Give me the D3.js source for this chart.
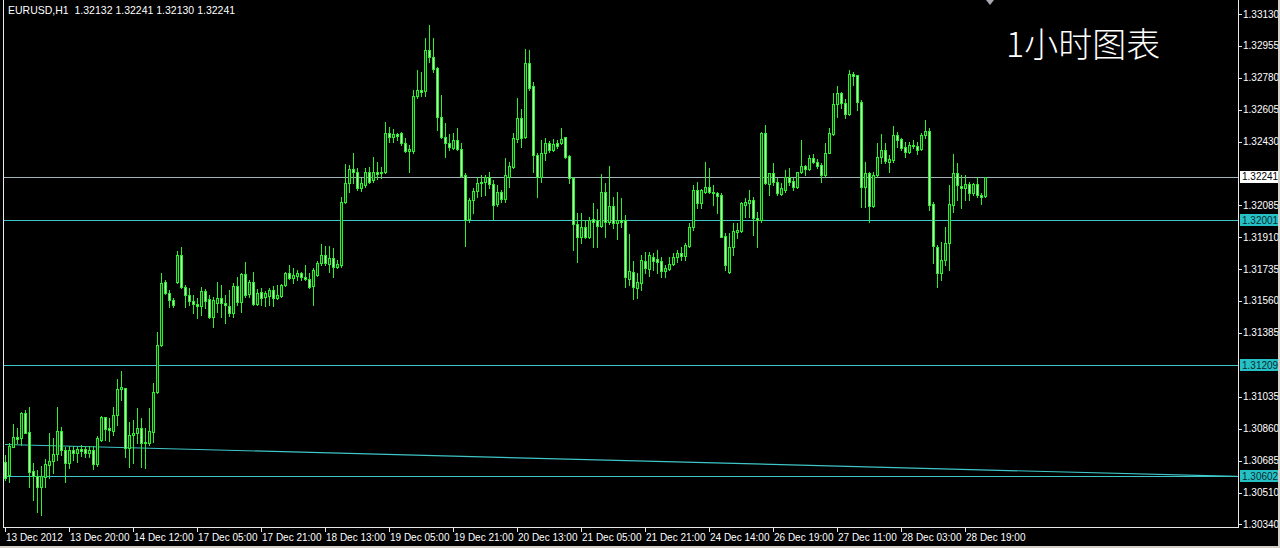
<!DOCTYPE html>
<html><head><meta charset="utf-8">
<script src="https://cdn.jsdelivr.net/npm/d3@7"></script>
<style>html,body{margin:0;padding:0;background:#000;overflow:hidden}svg{display:block}</style>
</head><body>
<svg id="c" width="1280" height="548"></svg>
<script>
const symbolTitle = "EURUSD,H1";
const lastQuote = ["1.32132", "1.32241", "1.32130", "1.32241"];
const chartTitle = "1小时图表";

const opens = [1.30680,1.30608,1.30762,1.30816,1.30811,1.30948,1.30844,1.30630,1.30603,1.30543,1.30597,1.30663,1.30685,1.30723,1.30849,1.30745,1.30674,1.30745,1.30729,1.30751,1.30751,1.30729,1.30745,1.30669,1.30800,1.30926,1.30865,1.30849,1.30937,1.31079,1.31084,1.30756,1.30827,1.30838,1.30865,1.30783,1.30783,1.30844,1.31062,1.31319,1.31664,1.31604,1.31566,1.31664,1.31812,1.31637,1.31593,1.31560,1.31544,1.31533,1.31615,1.31571,1.31473,1.31549,1.31577,1.31549,1.31533,1.31495,1.31642,1.31555,1.31708,1.31598,1.31664,1.31544,1.31609,1.31582,1.31588,1.31620,1.31577,1.31588,1.31648,1.31713,1.31686,1.31697,1.31713,1.31691,1.31681,1.31642,1.31702,1.31768,1.31812,1.31763,1.31795,1.31746,1.31757,1.32102,1.32206,1.32282,1.32266,1.32178,1.32195,1.32266,1.32222,1.32266,1.32260,1.32266,1.32479,1.32457,1.32474,1.32479,1.32424,1.32381,1.32381,1.32682,1.32714,1.32709,1.32933,1.32895,1.32835,1.32567,1.32457,1.32424,1.32397,1.32441,1.32392,1.32249,1.32009,1.32113,1.32162,1.32206,1.32211,1.32238,1.32200,1.32091,1.32156,1.32118,1.32238,1.32293,1.32446,1.32561,1.32457,1.32862,1.32736,1.32359,1.32238,1.32370,1.32424,1.32386,1.32424,1.32424,1.32457,1.32353,1.32233,1.31981,1.31910,1.31965,1.31910,1.32009,1.32003,1.31970,1.32156,1.31992,1.32080,1.31987,1.32003,1.32003,1.31681,1.31719,1.31631,1.31659,1.31779,1.31735,1.31801,1.31790,1.31779,1.31724,1.31735,1.31763,1.31801,1.31823,1.31806,1.31861,1.31965,1.32167,1.32096,1.32156,1.32184,1.32156,1.32151,1.32140,1.31916,1.31719,1.31856,1.31938,1.31943,1.32085,1.32096,1.32113,1.32014,1.32003,1.32479,1.32200,1.32260,1.32211,1.32145,1.32167,1.32238,1.32217,1.32184,1.32266,1.32299,1.32282,1.32342,1.32321,1.32304,1.32249,1.32370,1.32474,1.32638,1.32698,1.32643,1.32583,1.32802,1.32796,1.32649,1.32184,1.32260,1.32080,1.32249,1.32348,1.32386,1.32321,1.32331,1.32468,1.32446,1.32403,1.32375,1.32413,1.32408,1.32392,1.32468,1.32490,1.32091,1.31856,1.31713,1.31784,1.31877,1.32085,1.32260,1.32189,1.32178,1.32200,1.32151,1.32200,1.32140,1.32132];
const highs = [1.30718,1.30783,1.30887,1.30865,1.30953,1.30964,1.30980,1.30674,1.30636,1.30658,1.30696,1.30838,1.30811,1.30980,1.30871,1.30762,1.30767,1.30767,1.30762,1.30772,1.30767,1.30767,1.30767,1.30822,1.30931,1.30926,1.30920,1.30980,1.31134,1.31177,1.31084,1.30898,1.30909,1.30975,1.30920,1.30865,1.30975,1.31112,1.31391,1.31713,1.31675,1.31620,1.31577,1.31834,1.31856,1.31648,1.31631,1.31593,1.31577,1.31637,1.31626,1.31593,1.31582,1.31664,1.31648,1.31593,1.31620,1.31659,1.31691,1.31713,1.31774,1.31675,1.31719,1.31626,1.31631,1.31615,1.31631,1.31642,1.31648,1.31653,1.31719,1.31757,1.31741,1.31730,1.31719,1.31757,1.31713,1.31741,1.31779,1.31872,1.31861,1.31861,1.31850,1.31784,1.32129,1.32310,1.32304,1.32370,1.32288,1.32233,1.32288,1.32293,1.32348,1.32321,1.32293,1.32539,1.32512,1.32501,1.32479,1.32485,1.32452,1.32413,1.32714,1.32824,1.32813,1.32999,1.33070,1.32999,1.32840,1.32687,1.32534,1.32474,1.32479,1.32506,1.32424,1.32260,1.32124,1.32178,1.32238,1.32249,1.32249,1.32266,1.32222,1.32195,1.32167,1.32342,1.32321,1.32479,1.32671,1.32610,1.32939,1.32933,1.32758,1.32370,1.32441,1.32452,1.32435,1.32446,1.32441,1.32506,1.32457,1.32359,1.32238,1.32042,1.32042,1.32003,1.32020,1.32096,1.32063,1.32255,1.32206,1.32299,1.32129,1.32156,1.32124,1.32031,1.31927,1.31779,1.31713,1.31812,1.31828,1.31828,1.31823,1.31839,1.31801,1.31757,1.31801,1.31823,1.31839,1.31856,1.31877,1.31987,1.32195,1.32211,1.32173,1.32321,1.32288,1.32195,1.32156,1.32151,1.31932,1.31932,1.31987,1.31987,1.32102,1.32124,1.32167,1.32129,1.32047,1.32485,1.32523,1.32260,1.32315,1.32233,1.32206,1.32277,1.32288,1.32233,1.32266,1.32441,1.32304,1.32359,1.32364,1.32337,1.32315,1.32424,1.32506,1.32698,1.32736,1.32703,1.32665,1.32824,1.32813,1.32796,1.32660,1.32321,1.32266,1.32266,1.32424,1.32474,1.32424,1.32359,1.32517,1.32485,1.32452,1.32430,1.32430,1.32441,1.32430,1.32479,1.32550,1.32506,1.32102,1.31866,1.31883,1.31965,1.32195,1.32364,1.32315,1.32249,1.32249,1.32211,1.32206,1.32238,1.32151,1.32241];
const lows = [1.30581,1.30570,1.30762,1.30783,1.30772,1.30838,1.30543,1.30472,1.30406,1.30390,1.30543,1.30592,1.30619,1.30690,1.30718,1.30570,1.30647,1.30690,1.30680,1.30712,1.30707,1.30707,1.30641,1.30658,1.30794,1.30800,1.30794,1.30827,1.30882,1.31019,1.30707,1.30652,1.30674,1.30783,1.30652,1.30647,1.30772,1.30789,1.31057,1.31314,1.31598,1.31527,1.31527,1.31659,1.31631,1.31527,1.31538,1.31495,1.31467,1.31484,1.31522,1.31467,1.31418,1.31500,1.31473,1.31440,1.31478,1.31473,1.31538,1.31500,1.31582,1.31582,1.31538,1.31538,1.31538,1.31533,1.31538,1.31533,1.31571,1.31582,1.31642,1.31681,1.31659,1.31675,1.31675,1.31675,1.31631,1.31538,1.31697,1.31757,1.31757,1.31719,1.31691,1.31741,1.31746,1.32096,1.32156,1.32206,1.32167,1.32162,1.32184,1.32206,1.32211,1.32228,1.32233,1.32260,1.32430,1.32430,1.32441,1.32413,1.32375,1.32266,1.32370,1.32671,1.32682,1.32682,1.32868,1.32813,1.32496,1.32452,1.32348,1.32386,1.32392,1.32386,1.32238,1.31861,1.31992,1.32042,1.32129,1.32135,1.32140,1.32178,1.32009,1.32080,1.32102,1.32102,1.32184,1.32288,1.32430,1.32403,1.32452,1.32714,1.32266,1.32129,1.32211,1.32331,1.32375,1.32381,1.32397,1.32419,1.32342,1.32206,1.31839,1.31774,1.31877,1.31905,1.31905,1.31856,1.31856,1.31965,1.31910,1.31981,1.31959,1.31899,1.31965,1.31637,1.31648,1.31571,1.31577,1.31620,1.31713,1.31697,1.31730,1.31713,1.31691,1.31691,1.31730,1.31757,1.31774,1.31784,1.31784,1.31856,1.31949,1.32069,1.32069,1.32151,1.32151,1.32085,1.32042,1.31910,1.31730,1.31713,1.31812,1.31905,1.31938,1.32020,1.32020,1.31921,1.31856,1.31992,1.32200,1.32140,1.32195,1.32140,1.32140,1.32156,1.32195,1.32167,1.32178,1.32260,1.32249,1.32277,1.32315,1.32288,1.32211,1.32238,1.32370,1.32468,1.32567,1.32616,1.32561,1.32578,1.32742,1.32605,1.32074,1.32074,1.31992,1.32074,1.32238,1.32315,1.32315,1.32266,1.32321,1.32403,1.32386,1.32348,1.32370,1.32397,1.32364,1.32386,1.32452,1.32058,1.31768,1.31637,1.31675,1.31757,1.31730,1.32047,1.32113,1.32069,1.32113,1.32113,1.32140,1.32129,1.32091,1.32130];
const closes = [1.30592,1.30767,1.30816,1.30805,1.30948,1.30838,1.30625,1.30603,1.30543,1.30603,1.30669,1.30685,1.30723,1.30849,1.30745,1.30674,1.30745,1.30729,1.30751,1.30740,1.30729,1.30745,1.30669,1.30811,1.30926,1.30860,1.30855,1.30937,1.31079,1.31090,1.30756,1.30827,1.30838,1.30865,1.30783,1.30789,1.30849,1.31062,1.31319,1.31659,1.31604,1.31566,1.31538,1.31812,1.31637,1.31593,1.31560,1.31544,1.31533,1.31615,1.31560,1.31473,1.31566,1.31577,1.31549,1.31538,1.31495,1.31642,1.31555,1.31708,1.31593,1.31664,1.31544,1.31604,1.31577,1.31604,1.31620,1.31577,1.31593,1.31648,1.31713,1.31686,1.31702,1.31713,1.31691,1.31681,1.31637,1.31730,1.31768,1.31812,1.31768,1.31795,1.31746,1.31763,1.32102,1.32206,1.32282,1.32266,1.32178,1.32206,1.32266,1.32211,1.32266,1.32255,1.32266,1.32479,1.32457,1.32474,1.32463,1.32424,1.32381,1.32392,1.32682,1.32714,1.32703,1.32933,1.32895,1.32829,1.32567,1.32457,1.32424,1.32403,1.32441,1.32392,1.32244,1.32003,1.32113,1.32162,1.32206,1.32211,1.32238,1.32200,1.32085,1.32156,1.32118,1.32249,1.32299,1.32452,1.32561,1.32452,1.32862,1.32725,1.32359,1.32238,1.32370,1.32424,1.32386,1.32419,1.32408,1.32446,1.32348,1.32233,1.31981,1.31910,1.31965,1.31910,1.32003,1.31992,1.31970,1.32156,1.31992,1.32080,1.31987,1.32003,1.31992,1.31691,1.31724,1.31637,1.31664,1.31784,1.31741,1.31812,1.31779,1.31774,1.31724,1.31741,1.31763,1.31801,1.31823,1.31806,1.31866,1.31965,1.32167,1.32096,1.32167,1.32184,1.32156,1.32151,1.32135,1.31910,1.31757,1.31856,1.31943,1.31949,1.32096,1.32102,1.32113,1.32014,1.32003,1.32479,1.32206,1.32260,1.32211,1.32151,1.32178,1.32238,1.32211,1.32184,1.32266,1.32299,1.32282,1.32342,1.32321,1.32299,1.32249,1.32370,1.32479,1.32638,1.32698,1.32643,1.32583,1.32802,1.32791,1.32649,1.32184,1.32260,1.32080,1.32249,1.32348,1.32386,1.32326,1.32337,1.32468,1.32441,1.32397,1.32375,1.32413,1.32408,1.32386,1.32468,1.32490,1.32085,1.31861,1.31713,1.31784,1.31877,1.32091,1.32260,1.32195,1.32178,1.32200,1.32151,1.32200,1.32140,1.32129,1.32241];

const priceTicks = [1.33130,1.32955,1.32780,1.32605,1.32430,1.32085,1.31910,1.31735,1.31560,1.31385,1.31035,1.30860,1.30685,1.30510,1.30340];
const timeTickBars = [0,16,32,48,64,80,96,112,128,144,160,176,192,208,224,240];
const timeTickLabels = ["13 Dec 2012","13 Dec 20:00","14 Dec 12:00","17 Dec 05:00","17 Dec 21:00","18 Dec 13:00","19 Dec 05:00","19 Dec 21:00","20 Dec 13:00","21 Dec 05:00","21 Dec 21:00","24 Dec 14:00","26 Dec 19:00","27 Dec 11:00","28 Dec 03:00","28 Dec 19:00"];
const hLines = [1.32001, 1.31209, 1.30602];
const bidPrice = 1.32241;
const trendBars = [0, 308];
const trendPrices = [1.30775, 1.30600];

const svg = d3.select("#c");
const W = 1280, H = 548;
const plotL = 3, plotR = 1238, plotB = 527;
const font = "'Liberation Sans', Arial, sans-serif";

svg.append("rect").attr("width", W).attr("height", H).attr("fill", "#000");

const x = d3.scaleLinear().domain([0, 1]).range([5, 9]);
const y = d3.scaleLinear().domain([1.30340, 1.33130]).range([524, 14]);

svg.append("defs").append("clipPath").attr("id", "plot")
  .append("rect").attr("x", plotL + 1).attr("y", 0).attr("width", plotR - plotL - 1).attr("height", plotB);

const g = svg.append("g").attr("clip-path", "url(#plot)");

// horizontal lines
g.selectAll("line.h").data(hLines).join("line")
  .attr("x1", plotL).attr("x2", plotR)
  .attr("y1", d => Math.round(y(d)) + 0.5).attr("y2", d => Math.round(y(d)) + 0.5)
  .attr("stroke", "#3ec6c8").attr("stroke-width", 1);
// bid line
g.append("line").attr("x1", plotL).attr("x2", plotR)
  .attr("y1", Math.round(y(bidPrice)) + 0.5).attr("y2", Math.round(y(bidPrice)) + 0.5)
  .attr("stroke", "#9fb4bc").attr("stroke-width", 1);
// trend line
g.append("line")
  .attr("x1", x(trendBars[0])).attr("y1", y(trendPrices[0]))
  .attr("x2", x(trendBars[1])).attr("y2", y(trendPrices[1]))
  .attr("stroke", "#3ec6c8").attr("stroke-width", 1.2);

// candles
const bars = d3.range(opens.length).map(i => ({i, o: opens[i], h: highs[i], l: lows[i], c: closes[i]}));
const cg = g.append("g").attr("shape-rendering", "crispEdges");
const green = "#2bf02b";
cg.selectAll("line.w").data(bars).join("line")
  .attr("x1", d => Math.round(x(d.i)) + 0.5).attr("x2", d => Math.round(x(d.i)) + 0.5)
  .attr("y1", d => Math.round(y(d.h))).attr("y2", d => Math.round(y(d.l)) + 1)
  .attr("stroke", green);
cg.selectAll("rect.b").data(bars).join("rect")
  .attr("x", d => Math.round(x(d.i)) - 0.5)
  .attr("y", d => Math.round(y(Math.max(d.o, d.c))) + 0.5)
  .attr("width", 2)
  .attr("height", d => Math.max(0, Math.round(y(Math.min(d.o, d.c))) - Math.round(y(Math.max(d.o, d.c)))))
  .attr("fill", d => d.c >= d.o ? "#0a3a0a" : "#b8ffb8")
  .attr("stroke", green);

// frame
svg.append("line").attr("x1", plotL + 0.5).attr("x2", plotL + 0.5).attr("y1", 0).attr("y2", plotB + 0.5).attr("stroke", "#e8e8e8");
svg.append("line").attr("x1", plotR + 0.5).attr("x2", plotR + 0.5).attr("y1", 0).attr("y2", plotB + 0.5).attr("stroke", "#e8e8e8");
svg.append("line").attr("x1", plotL).attr("x2", plotR + 1).attr("y1", plotB + 0.5).attr("y2", plotB + 0.5).attr("stroke", "#e8e8e8");

// price axis
const pa = svg.append("g");
pa.selectAll("line").data(priceTicks).join("line")
  .attr("x1", plotR + 1).attr("x2", plotR + 4)
  .attr("y1", d => Math.round(y(d)) + 0.5).attr("y2", d => Math.round(y(d)) + 0.5)
  .attr("stroke", "#e8e8e8");
pa.selectAll("text").data(priceTicks).join("text")
  .attr("x", plotR + 5).attr("y", d => y(d) + 3.5)
  .attr("fill", "#fff").attr("font-family", font).attr("font-size", 10)
  .text(d => d.toFixed(5));

// price markers
const markers = [{p: bidPrice, bg: "#ffffff", fg: "#000"}].concat(hLines.map(p => ({p, bg: "#25c1c6", fg: "#0a2a30"})));
const mk = svg.append("g").selectAll("g").data(markers).join("g");
mk.append("rect").attr("x", plotR + 2).attr("y", d => Math.round(y(d.p)) - 6)
  .attr("width", 38).attr("height", 12).attr("fill", d => d.bg);
mk.append("text").attr("x", plotR + 4).attr("y", d => y(d.p) + 3.5)
  .attr("fill", d => d.fg).attr("font-family", font).attr("font-size", 10)
  .text(d => d.p.toFixed(5));

// time axis
const ta = svg.append("g");
ta.selectAll("line").data(timeTickBars).join("line")
  .attr("x1", d => Math.round(x(d)) + 0.5).attr("x2", d => Math.round(x(d)) + 0.5)
  .attr("y1", plotB).attr("y2", plotB + 5).attr("stroke", "#e8e8e8");
ta.selectAll("text").data(timeTickBars).join("text")
  .attr("x", d => Math.round(x(d)) + 1).attr("y", 541)
  .attr("fill", "#fff").attr("font-family", font).attr("font-size", 10)
  .text((d, i) => timeTickLabels[i]);

// window edges
svg.append("rect").attr("x", 0).attr("y", 546).attr("width", W).attr("height", 2).attr("fill", "#d4d0c8");
svg.append("rect").attr("x", 1278).attr("y", 0).attr("width", 2).attr("height", H).attr("fill", "#d4d0c8");

// header
svg.append("text").attr("x", 8).attr("y", 14).attr("fill", "#fff")
  .attr("font-family", font).attr("font-size", 10.5).style("white-space", "pre")
  .text(symbolTitle + "  " + lastQuote.join(" "));

// title
svg.append("text").attr("x", 1006).attr("y", 57).attr("fill", "#fff")
  .attr("font-family", "'Noto Sans CJK SC', sans-serif").attr("font-weight", 300).attr("font-size", 34)
  .text(chartTitle);

// small marker at top
svg.append("path").attr("d", "M986,0 L994,0 L990,5 Z").attr("fill", "#a8a8b0");
</script>
</body></html>
